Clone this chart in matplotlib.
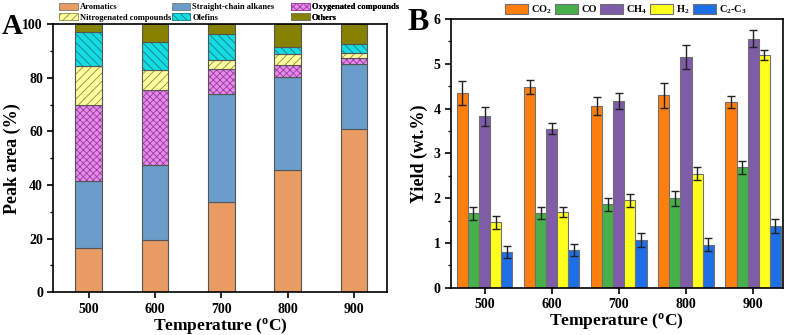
import numpy as np
import matplotlib
matplotlib.use("Agg")
import matplotlib.pyplot as plt
from matplotlib.patches import Patch
from matplotlib.ticker import MultipleLocator

plt.rcParams['font.family'] = ['Liberation Serif', 'DejaVu Serif']
plt.rcParams['font.weight'] = 'bold'
plt.rcParams['mathtext.fontset'] = 'custom'
plt.rcParams['mathtext.rm'] = 'Liberation Serif:bold'
plt.rcParams['mathtext.it'] = 'Liberation Serif:bold'
plt.rcParams['mathtext.bf'] = 'Liberation Serif:bold'
plt.rcParams['hatch.linewidth'] = 0.6

# === data: panel A (peak area %, stacked) ===
temps = ["500", "600", "700", "800", "900"]
aromatics = [16.4, 19.6, 33.6, 45.7, 61.0]
straight_chain = [25.0, 27.8, 40.5, 34.6, 24.1]
oxygenated = [28.6, 28.0, 9.1, 4.6, 2.2]
nitrogenated = [14.4, 7.4, 3.6, 4.1, 2.1]
olefins = [12.6, 10.6, 9.7, 2.5, 3.2]
others = [3.0, 6.6, 3.5, 8.5, 7.4]

# === data: panel B (yield wt.%) ===
co2 = [4.35, 4.48, 4.05, 4.30, 4.14]
co2_err = [0.27, 0.16, 0.20, 0.28, 0.13]
co = [1.66, 1.67, 1.86, 2.00, 2.69]
co_err = [0.15, 0.14, 0.15, 0.17, 0.14]
ch4 = [3.83, 3.55, 4.17, 5.16, 5.56]
ch4_err = [0.21, 0.12, 0.18, 0.27, 0.19]
h2 = [1.46, 1.70, 1.95, 2.55, 5.20]
h2_err = [0.14, 0.11, 0.15, 0.15, 0.11]
c2c3 = [0.80, 0.84, 1.06, 0.96, 1.38]
c2c3_err = [0.13, 0.13, 0.16, 0.15, 0.15]

fig = plt.figure(figsize=(7.89, 3.35), dpi=100)
axA = fig.add_axes([0.0676, 0.1275, 0.4233, 0.8])
axB = fig.add_axes([0.5716, 0.1412, 0.4204, 0.802])

x = np.arange(1, len(temps) + 1)

# --- Panel A ---
series_A = [
    ("Aromatics", aromatics, "#E89B63", None, None),
    ("Straight-chain alkanes", straight_chain, "#6A9DC9", None, None),
    ("Oxygenated compounds", oxygenated, "#E58BEA", "xxxxx", "#9A3AA0"),
    ("Nitrogenated compounds", nitrogenated, "#FFFF9E", "////", "#8C8C40"),
    ("Olefins", olefins, "#14DCE0", "\\\\\\\\", "#107C8A"),
    ("Others", others, "#868200", None, None),
]
bottom = np.zeros(len(temps))
handles = {}
for name, vals, color, hatch, hcol in series_A:
    vals = np.array(vals)
    if hatch:
        axA.bar(x, vals, 0.4, bottom=bottom, color=color, hatch=hatch,
                edgecolor=hcol, linewidth=0)
    axA.bar(x, vals, 0.4, bottom=bottom, color=color if not hatch else 'none',
            edgecolor='#555555', linewidth=0.8)
    handles[name] = Patch(facecolor=color, hatch=hatch, edgecolor=hcol if hcol else '#777777',
                          linewidth=0.6)
    bottom += vals

axA.set_xlim(0.47, 5.5)
axA.set_ylim(0, 100)
axA.set_xticks(x)
axA.set_xticklabels(temps)
axA.yaxis.set_major_locator(MultipleLocator(20))
axA.yaxis.set_minor_locator(MultipleLocator(10))
axA.set_xlabel("Temperature ($^{\\mathrm{o}}$C)", fontsize=12.5, fontweight='bold', labelpad=0)
axA.set_ylabel("Peak area (%)", fontsize=13, fontweight='bold', labelpad=1)

# legend as three separate columns, placed like the original
legend_cols = [
    (["Aromatics", "Nitrogenated compounds"], 0.017),
    (["Straight-chain alkanes", "Olefins"], 0.354),
    (["Oxygenated compounds", "Others"], 0.712),
]
for names, xpos in legend_cols:
    leg = axA.legend([handles[k] for k in names], names, loc='lower left',
                     bbox_to_anchor=(xpos, 1.01), frameon=False, fontsize=6.1,
                     handlelength=2.2, handleheight=0.95, handletextpad=0.25,
                     labelspacing=0.2, borderpad=0, borderaxespad=0)
    axA.add_artist(leg)
fig.text(0.002, 0.9, "A", fontsize=21, fontweight='bold')

# --- Panel B ---
series_B = [
    ("CO$_2$", co2, co2_err, "#FF7F0E"),
    ("CO", co, co_err, "#47B04B"),
    ("CH$_4$", ch4, ch4_err, "#7E5CA8"),
    ("H$_2$", h2, h2_err, "#FFFF1E"),
    ("C$_2$-C$_3$", c2c3, c2c3_err, "#1E6FE6"),
]
w = 0.165
for i, (name, vals, err, color) in enumerate(series_B):
    axB.bar(x + (i - 2) * w, vals, w, yerr=err, color=color, edgecolor='#707070',
            linewidth=0.8, label=name,
            error_kw=dict(ecolor='#222222', elinewidth=1, capsize=3, capthick=1))

axB.set_xlim(0.5, 5.44)
axB.set_ylim(0, 6)
axB.set_xticks(x)
axB.set_xticklabels(temps)
axB.yaxis.set_major_locator(MultipleLocator(1))
axB.yaxis.set_minor_locator(MultipleLocator(0.5))
axB.set_xlabel("Temperature ($^{\\mathrm{o}}$C)", fontsize=12.5, fontweight='bold', labelpad=0)
axB.set_ylabel("Yield (wt.%)", fontsize=13, fontweight='bold', labelpad=4)
axB.legend(ncol=5, loc='lower left', bbox_to_anchor=(0.163, 1.012), frameon=False,
           fontsize=7.5, handlelength=2.2, handleheight=1.05, handletextpad=0.3,
           columnspacing=0.3, borderpad=0, borderaxespad=0)
fig.text(0.517, 0.91, "B", fontsize=23, fontweight='bold')

for ax in (axA, axB):
    for s in ax.spines.values():
        s.set_linewidth(1.2)
    ax.tick_params(axis='both', which='major', labelsize=10, width=1.2, length=4, direction='out')
    ax.tick_params(axis='y', which='minor', width=1.0, length=2.5, direction='out')
    ax.tick_params(axis='x', which='minor', bottom=False)

fig.savefig("out.png", dpi=100)
